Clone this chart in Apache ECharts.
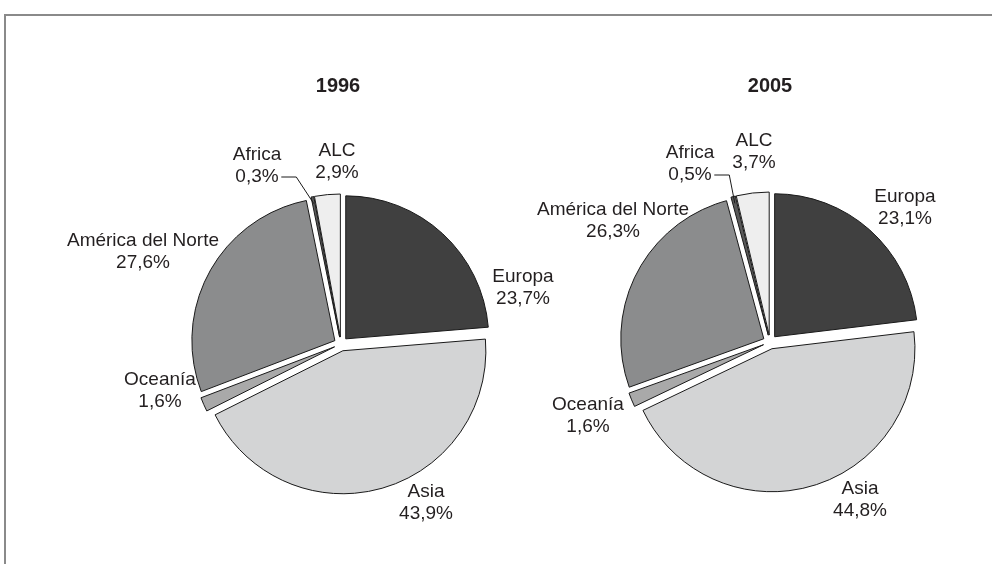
<!DOCTYPE html>
<html>
<head>
<meta charset="utf-8">
<script src="https://cdn.jsdelivr.net/npm/echarts@6/dist/echarts.min.js"></script>
<style>
  html, body { margin: 0; padding: 0; background: #fff; }
  #chart { width: 992px; height: 564px; }
</style>
</head>
<body>
<div id="chart"></div>
<script>
// datos por región (%)
var regions = ['Europa', 'Asia', 'Oceanía', 'América del Norte', 'Africa', 'ALC'];
var years = ['1996', '2005'];
var values1996 = [23.7, 43.9, 1.6, 27.6, 0.3, 2.9];
var values2005 = [23.1, 44.8, 1.6, 26.3, 0.5, 3.7];
var colors = ['#404040', '#d3d4d5', '#a9a9a9', '#8b8c8d', '#5a5a5a', '#eeeeee'];

// posiciones de las etiquetas (centro del texto; Africa: centro de la 2a línea)
var labelPos = [
  [[523, 288], [426, 503], [160, 391], [143, 252], [257, 177], [337, 162]],
  [[905, 208], [860, 500], [588, 416], [613, 221], [690, 175], [754, 152]]
];

var fontFamily = '"Liberation Sans", Arial, Helvetica, sans-serif';

function fmt(v) {
  return v.toFixed(1).replace('.', ',') + '%';
}

// sectores: todos separados del centro
function makeSeries(values, idx, center) {
  return {
    name: years[idx],
    type: 'pie',
    center: center,
    radius: 143,
    startAngle: 90,
    selectedMode: 'multiple',
    selectedOffset: 7,
    silent: true,
    itemStyle: { borderColor: '#1a1a1a', borderWidth: 1 },
    emphasis: { disabled: true },
    label: { show: false },
    labelLine: { show: false },
    data: regions.map(function (name, i) {
      return { name: name, value: values[i], selected: true, itemStyle: { color: colors[i] } };
    })
  };
}

// etiquetas (serie transparente, sin estado seleccionado)
function makeLabelSeries(values, idx, center) {
  return {
    name: years[idx] + ' etiquetas',
    type: 'pie',
    center: center,
    radius: 143,
    startAngle: 90,
    silent: true,
    z: 3,
    itemStyle: { color: 'rgba(0,0,0,0)', borderWidth: 0 },
    emphasis: { disabled: true },
    label: {
      show: true,
      position: 'outside',
      overflow: 'none',
      color: '#231f20',
      fontFamily: fontFamily,
      fontSize: 19,
      lineHeight: 22,
      formatter: function (p) {
        var txt = p.name + '\n' + fmt(p.value);
        // línea vacía para que la guía salga a la altura del porcentaje
        return p.name === 'Africa' ? txt + '\n ' : txt;
      }
    },
    labelLine: { show: false, lineStyle: { color: '#1a1a1a', width: 1 } },
    labelLayout: function (p) {
      var pos = labelPos[idx][p.dataIndex];
      if (!pos) return {};
      return { x: pos[0], y: pos[1], align: 'center', verticalAlign: 'middle' };
    },
    data: regions.map(function (name, i) {
      var item = { name: name, value: values[i] };
      if (name === 'Africa') item.labelLine = { show: true, length2: 15 };
      return item;
    })
  };
}

var chart = echarts.init(document.getElementById('chart'), null, { renderer: 'canvas' });
chart.setOption({
  backgroundColor: '#ffffff',
  animation: false,
  title: [
    { text: years[0], left: 333, top: 71, textAlign: 'center',
      textStyle: { fontFamily: fontFamily, fontSize: 20, fontWeight: 'bold', color: '#231f20' } },
    { text: years[1], left: 765, top: 71, textAlign: 'center',
      textStyle: { fontFamily: fontFamily, fontSize: 20, fontWeight: 'bold', color: '#231f20' } }
  ],
  graphic: [{
    type: 'polyline',
    shape: { points: [[5, 564], [5, 15], [992, 15]] },
    style: { stroke: '#8a8a8a', lineWidth: 2, fill: null },
    silent: true
  }],
  series: [
    makeSeries(values1996, 0, [341, 344]),
    makeSeries(values2005, 1, [770, 342]),
    makeLabelSeries(values1996, 0, [341, 344]),
    makeLabelSeries(values2005, 1, [770, 342])
  ]
});
</script>
</body>
</html>
